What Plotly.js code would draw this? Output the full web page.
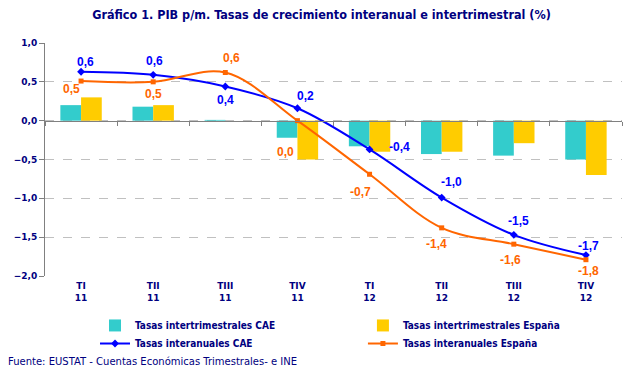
<!DOCTYPE html>
<html>
<head>
<meta charset="utf-8">
<script src="https://cdn.plot.ly/plotly-3.0.1.min.js"></script>
<style>html,body{margin:0;padding:0;background:#fff;}#chart{width:643px;height:375px;}</style>
</head>
<body>
<div id="chart"></div>
<script>
// ---- data ----
var quarters = ['TI', 'TII', 'TIII', 'TIV', 'TI', 'TII', 'TIII', 'TIV'];
var years = ['11', '11', '11', '11', '12', '12', '12', '12'];
var interTrimCAE = [0.20, 0.18, 0.01, -0.22, -0.33, -0.43, -0.45, -0.50];
var interTrimEsp = [0.30, 0.20, 0.00, -0.50, -0.40, -0.40, -0.29, -0.70];
var interAnualCAE = [0.63, 0.59, 0.44, 0.16, -0.37, -0.99, -1.47, -1.73];
var interAnualEsp = [0.51, 0.50, 0.62, 0.00, -0.69, -1.38, -1.59, -1.79];
var names = ['Tasas intertrimestrales CAE', 'Tasas intertrimestrales España',
             'Tasas interanuales CAE', 'Tasas interanuales España'];
var yTicks = [-2, -1.5, -1, -0.5, 0, 0.5, 1];

// ---- label offsets (pixels) ----
var offCAE = [[4, 10], [1, 14], [0, -14], [8, 12], [30, 2], [10, 16], [5, 14], [3, 9]];
var offEsp = [[-10, -8], [0, -12], [6, 15], [-12, -31], [-9, -18], [-5, -16], [-3, -16], [3, -11]];

var cats = quarters.map(function (q, i) { return q + '<br>' + years[i]; });
var navy = '#000080';
var cBlue = '#0000FF', cOrange = '#FF6600', cTurq = '#33CCCC', cGold = '#FFCC00';
function fmt(v) { return v.toFixed(1).replace('.', ','); }

var traces = [
  {type: 'bar', name: names[0], x: cats, y: interTrimCAE, marker: {color: cTurq}, hoverinfo: 'skip', legend: 'legend'},
  {type: 'bar', name: names[1], x: cats, y: interTrimEsp, marker: {color: cGold}, hoverinfo: 'skip', legend: 'legend2'},
  {type: 'scatter', mode: 'lines+markers', name: names[2], x: cats, y: interAnualCAE, legend: 'legend3',
   line: {color: cBlue, width: 2, shape: 'spline'}, marker: {color: cBlue, size: 6, symbol: 'diamond'}, hoverinfo: 'skip'},
  {type: 'scatter', mode: 'lines+markers', name: names[3], x: cats, y: interAnualEsp, legend: 'legend4',
   line: {color: cOrange, width: 2, shape: 'spline'}, marker: {color: cOrange, size: 5, symbol: 'square'}, hoverinfo: 'skip'},
  {type: 'scatter', mode: 'none', x: cats, y: interAnualCAE, xaxis: 'x2', showlegend: false, hoverinfo: 'skip'}
];

var anns = [];
interAnualCAE.forEach(function (v, i) {
  anns.push({xref: 'x', yref: 'y', x: cats[i], y: v, text: fmt(v), showarrow: false,
    xshift: offCAE[i][0], yshift: offCAE[i][1],
    font: {family: 'Liberation Sans, Arial, sans-serif', size: 12, color: cBlue, weight: 'bold'}});
});
interAnualEsp.forEach(function (v, i) {
  anns.push({xref: 'x', yref: 'y', x: cats[i], y: v, text: fmt(v), showarrow: false,
    xshift: offEsp[i][0], yshift: offEsp[i][1],
    font: {family: 'Liberation Sans, Arial, sans-serif', size: 12, color: cOrange, weight: 'bold'}});
});
anns.push({xref: 'paper', yref: 'paper', x: -0.0676, y: -0.369, xanchor: 'left', yanchor: 'middle',
  text: 'Fuente: EUSTAT - Cuentas Económicas Trimestrales- e INE', showarrow: false,
  font: {family: 'DejaVu Sans, sans-serif', size: 10, color: navy}});

var legFont = {family: 'DejaVu Sans Condensed, DejaVu Sans, sans-serif', size: 10, color: navy, weight: 'bold'};
function leg(x, y) {
  return {orientation: 'v', x: x, xanchor: 'left', y: y, yanchor: 'top', itemwidth: 30,
    font: legFont, bgcolor: 'rgba(0,0,0,0)'};
}

var layout = {
  width: 643, height: 375,
  margin: {l: 45, r: 21, t: 43, b: 99},
  paper_bgcolor: '#fff', plot_bgcolor: '#fff',
  separators: ',.',
  showlegend: true,
  barmode: 'group', bargap: 0.426, bargroupgap: 0,
  title: {text: '<b>Gráfico 1. PIB p/m. Tasas de crecimiento interanual e intertrimestral (%)</b>',
    xref: 'container', x: 0.5, xanchor: 'center', yref: 'container', y: 0.96, yanchor: 'middle',
    font: {family: 'DejaVu Sans Condensed, DejaVu Sans, sans-serif', size: 12.5, color: navy}},
  xaxis: {type: 'category', range: [-0.5, 7.5], showline: false, ticks: '', showgrid: false, zeroline: false,
    ticklabelstandoff: 3,
    tickfont: {family: 'DejaVu Sans, sans-serif', size: 9, color: navy, weight: 'bold'}, fixedrange: true},
  xaxis2: {type: 'category', overlaying: 'x', anchor: 'free', position: 2 / 3, side: 'bottom',
    range: [-0.5, 7.5], showline: true, linecolor: '#808080', linewidth: 1,
    ticks: 'outside', tickson: 'boundaries', ticklen: 4, tickcolor: '#808080',
    showticklabels: false, showgrid: false, zeroline: false, fixedrange: true},
  yaxis: {range: [-2, 1], tickvals: yTicks, tickformat: '.1f', showline: true, linecolor: '#808080', linewidth: 1,
    ticks: 'outside', ticklen: 5, tickcolor: '#808080', showgrid: true, gridcolor: '#C0C0C0', griddash: 'dash',
    zeroline: false, tickfont: {family: 'DejaVu Sans, sans-serif', size: 9, color: navy, weight: 'bold'}, fixedrange: true},
  legend: leg(0.0867, -0.150),
  legend2: leg(0.551, -0.150),
  legend3: leg(0.0867, -0.2275),
  legend4: leg(0.551, -0.2275),
  annotations: anns
};

Plotly.newPlot('chart', traces, layout, {staticPlot: true, displayModeBar: false});
</script>
</body>
</html>
